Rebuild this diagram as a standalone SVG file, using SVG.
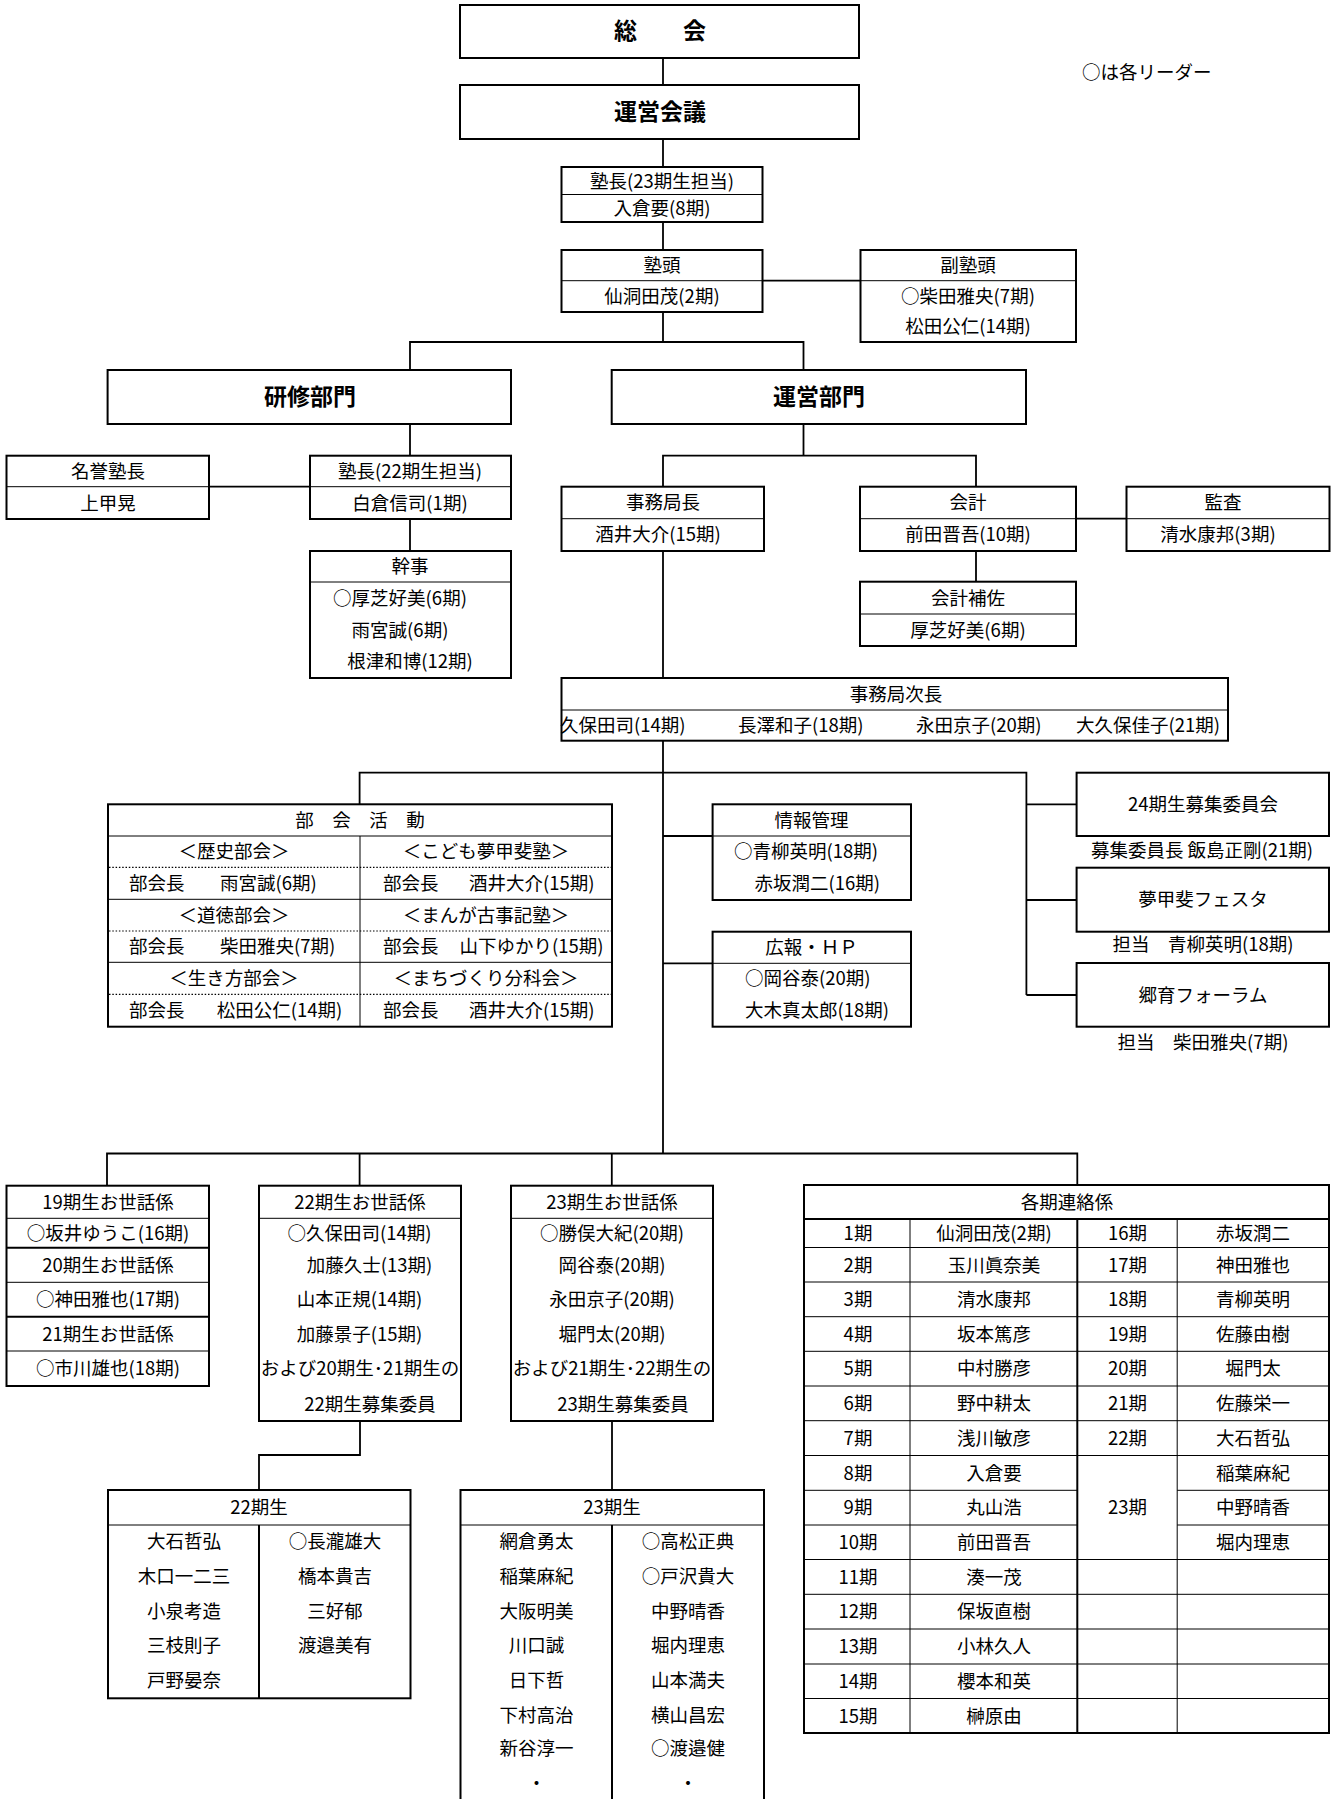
<svg xmlns="http://www.w3.org/2000/svg" width="1336" height="1799" viewBox="0 0 1336 1799">
<style>
.bx{fill:#fff;stroke:#000;stroke-width:2}
.dv{stroke:#000;stroke-width:1;fill:none}
.dk{stroke:#000;stroke-width:2;fill:none}
.dt{stroke:#000;stroke-width:1.2;stroke-dasharray:1.5 1.8;fill:none}
.cn line,.cn path{stroke:#000;stroke-width:1.8;fill:none}
text{font-family:"Noto Sans CJK JP","Noto Sans CJK SC",sans-serif;font-size:18.5px;fill:#000;dominant-baseline:central;transform:translateY(-1.2px)}
.c{text-anchor:middle}
.s{text-anchor:start}
.h{font-size:23px;font-weight:bold;text-anchor:middle;transform:translateY(-2.5px)}
</style>
<rect width="1336" height="1799" fill="#fff"/>
<g class="cn" id="connectors">
<line x1="663" y1="58" x2="663" y2="85"/>
<line x1="663" y1="139" x2="663" y2="167"/>
<line x1="663" y1="222" x2="663" y2="250"/>
<line x1="762.5" y1="280.7" x2="860.5" y2="280.7"/>
<line x1="663" y1="312" x2="663" y2="342"/>
<path d="M410,370 V342 H803.5 V370"/>
<line x1="410" y1="424" x2="410" y2="455.7"/>
<line x1="209" y1="486.7" x2="310" y2="486.7"/>
<line x1="410" y1="519" x2="410" y2="551"/>
<line x1="803.5" y1="424" x2="803.5" y2="455.7"/>
<path d="M663,486.7 V455.7 H976 V486.7"/>
<line x1="1076" y1="518.7" x2="1126.5" y2="518.7"/>
<line x1="976" y1="551" x2="976" y2="581.7"/>
<line x1="663" y1="551" x2="663" y2="678"/>
<line x1="663" y1="740.7" x2="663" y2="1153.5"/>
<path d="M359.6,804.3 V772.7 H1026.4 V995"/>
<line x1="1026.4" y1="804.3" x2="1076.6" y2="804.3"/>
<line x1="1026.4" y1="900" x2="1076.6" y2="900"/>
<line x1="1026.4" y1="995" x2="1076.6" y2="995"/>
<line x1="663" y1="836" x2="712.6" y2="836"/>
<line x1="663" y1="963.3" x2="712.6" y2="963.3"/>
<path d="M107,1185.7 V1153.5 H1077.3 V1185"/>
<line x1="359.6" y1="1153.5" x2="359.6" y2="1185.7"/>
<line x1="611.8" y1="1153.5" x2="611.8" y2="1185.7"/>
<path d="M360,1421 V1455 H259 V1490"/>
<line x1="612" y1="1421" x2="612" y2="1490"/>
</g>

<g id="legend"><text class="s" x="1082" y="72">○は各リーダー</text></g>

<g id="soukai"><rect class="bx" x="460" y="5" width="399" height="53"/><text class="h" x="660" y="31.5">総　　会</text></g>
<g id="unei-kaigi"><rect class="bx" x="460" y="85" width="399" height="54"/><text class="h" x="660" y="112">運営会議</text></g>

<g id="jukucho23"><rect class="bx" x="561.5" y="167" width="201" height="55"/><line class="dv" x1="561.5" y1="194.5" x2="762.5" y2="194.5"/>
<text class="c" x="662" y="181">塾長(23期生担当)</text><text class="c" x="662" y="208.5">入倉要(8期)</text></g>

<g id="jukuto"><rect class="bx" x="561.5" y="250" width="201" height="62"/><line class="dv" x1="561.5" y1="280.7" x2="762.5" y2="280.7"/>
<text class="c" x="662" y="265.5">塾頭</text><text class="c" x="662" y="296">仙洞田茂(2期)</text></g>

<g id="fukujukuto"><rect class="bx" x="860.5" y="250" width="215.5" height="92"/><line class="dv" x1="860.5" y1="280.7" x2="1076" y2="280.7"/>
<text class="c" x="968" y="265.5">副塾頭</text><text class="c" x="968" y="296">○柴田雅央(7期)</text><text class="c" x="968" y="326">松田公仁(14期)</text></g>

<g id="kenshu"><rect class="bx" x="107.6" y="370" width="403.4" height="54"/><text class="h" x="310" y="397">研修部門</text></g>
<g id="unei-bumon"><rect class="bx" x="611.7" y="370" width="414.3" height="54"/><text class="h" x="819" y="397">運営部門</text></g>

<g id="meiyo"><rect class="bx" x="6.5" y="455.7" width="202.5" height="63.3"/><line class="dv" x1="6.5" y1="486.7" x2="209" y2="486.7"/>
<text class="c" x="108" y="471">名誉塾長</text><text class="c" x="108" y="503">上甲晃</text></g>

<g id="jukucho22"><rect class="bx" x="310" y="455.7" width="201" height="63.3"/><line class="dv" x1="310" y1="486.7" x2="511" y2="486.7"/>
<text class="c" x="410" y="471">塾長(22期生担当)</text><text class="c" x="410" y="503">白倉信司(1期)</text></g>

<g id="kanji"><rect class="bx" x="310" y="551" width="201" height="127"/><line class="dv" x1="310" y1="582" x2="511" y2="582"/>
<text class="c" x="410" y="566.5">幹事</text><text class="c" x="400" y="598">○厚芝好美(6期)</text><text class="c" x="400" y="630">雨宮誠(6期)</text><text class="c" x="410" y="661.7">根津和博(12期)</text></g>

<g id="jimukyokucho"><rect class="bx" x="561.5" y="486.7" width="202.5" height="64.3"/><line class="dv" x1="561.5" y1="518.7" x2="764" y2="518.7"/>
<text class="c" x="663" y="502.7">事務局長</text><text class="c" x="658" y="534.7">酒井大介(15期)</text></g>

<g id="kaikei"><rect class="bx" x="860" y="486.7" width="216" height="64.3"/><line class="dv" x1="860" y1="518.7" x2="1076" y2="518.7"/>
<text class="c" x="968" y="502.7">会計</text><text class="c" x="968" y="534.7">前田晋吾(10期)</text></g>

<g id="kansa"><rect class="bx" x="1126.5" y="486.7" width="203" height="64.3"/><line class="dv" x1="1126.5" y1="518.7" x2="1329.5" y2="518.7"/>
<text class="c" x="1223" y="502.7">監査</text><text class="c" x="1218" y="534.7">清水康邦(3期)</text></g>

<g id="kaikei-hosa"><rect class="bx" x="860" y="581.7" width="216" height="64.3"/><line class="dv" x1="860" y1="614" x2="1076" y2="614"/>
<text class="c" x="968" y="598">会計補佐</text><text class="c" x="968" y="630">厚芝好美(6期)</text></g>

<g id="jimukyoku-jicho"><rect class="bx" x="561.5" y="678" width="666.5" height="62.7"/><line class="dv" x1="561.5" y1="710" x2="1228" y2="710"/>
<text class="c" x="896" y="694">事務局次長</text>
<text class="s" x="560" y="725.5">久保田司(14期)</text><text class="s" x="738" y="725.5">長澤和子(18期)</text><text class="s" x="916" y="725.5">永田京子(20期)</text><text class="s" x="1076" y="725.5">大久保佳子(21期)</text></g>

<g id="bukai"><rect class="bx" x="108" y="804.3" width="504" height="222.4"/>
<line class="dv" x1="108" y1="836" x2="612" y2="836"/>
<line class="dv" x1="360" y1="836" x2="360" y2="1026.7"/>
<line class="dv" x1="108" y1="899.3" x2="612" y2="899.3"/>
<line class="dv" x1="108" y1="962.3" x2="612" y2="962.3"/>
<line class="dt" x1="109" y1="867.3" x2="611" y2="867.3"/>
<line class="dt" x1="109" y1="931" x2="611" y2="931"/>
<line class="dt" x1="109" y1="994.3" x2="611" y2="994.3"/>
<text class="c" x="360" y="820">部　会　活　動</text>
<text class="c" x="234" y="851.7">＜歴史部会＞</text><text class="c" x="486" y="851.7">＜こども夢甲斐塾＞</text>
<text class="s" x="129" y="883.3">部会長</text><text class="s" x="220" y="883.3">雨宮誠(6期)</text>
<text class="s" x="383" y="883.3">部会長</text><text class="s" x="469" y="883.3">酒井大介(15期)</text>
<text class="c" x="234" y="915">＜道徳部会＞</text><text class="c" x="486" y="915">＜まんが古事記塾＞</text>
<text class="s" x="129" y="946.7">部会長</text><text class="s" x="220" y="946.7">柴田雅央(7期)</text>
<text class="s" x="383" y="946.7">部会長</text><text class="s" x="459.5" y="946.7">山下ゆかり(15期)</text>
<text class="c" x="234" y="978.3">＜生き方部会＞</text><text class="c" x="486" y="978.3">＜まちづくり分科会＞</text>
<text class="s" x="129" y="1010.5">部会長</text><text class="s" x="216.7" y="1010.5">松田公仁(14期)</text>
<text class="s" x="383" y="1010.5">部会長</text><text class="s" x="469" y="1010.5">酒井大介(15期)</text>
</g>

<g id="joho"><rect class="bx" x="712.6" y="804.3" width="198.4" height="95.7"/><line class="dv" x1="712.6" y1="836" x2="911" y2="836"/>
<text class="c" x="811.5" y="820">情報管理</text><text class="s" x="734" y="851.7">○青柳英明(18期)</text><text class="s" x="754.5" y="883">赤坂潤二(16期)</text></g>

<g id="koho"><rect class="bx" x="712.6" y="931.7" width="198.4" height="95"/><line class="dv" x1="712.6" y1="963.3" x2="911" y2="963.3"/>
<text class="c" x="811.5" y="947.5">広報・ＨＰ</text><text class="s" x="745" y="978.5">○岡谷泰(20期)</text><text class="s" x="745" y="1010">大木真太郎(18期)</text></g>

<g id="boshu24"><rect class="bx" x="1076.6" y="772.7" width="252.4" height="63.3"/><text class="c" x="1203" y="804.3">24期生募集委員会</text>
<text class="c" x="1202" y="850">募集委員長 飯島正剛(21期)</text></g>

<g id="festa"><rect class="bx" x="1076.6" y="867.7" width="252.4" height="64"/><text class="c" x="1203" y="899.7">夢甲斐フェスタ</text>
<text class="c" x="1203" y="944.3">担当　青柳英明(18期)</text></g>

<g id="forum"><rect class="bx" x="1076.6" y="963" width="252.4" height="63.7"/><text class="c" x="1203" y="995">郷育フォーラム</text>
<text class="c" x="1203" y="1042.7">担当　柴田雅央(7期)</text></g>

<g id="osewa19-21"><rect class="bx" x="6.5" y="1185.7" width="202.5" height="200.3"/>
<line class="dv" x1="6.5" y1="1218.3" x2="209" y2="1218.3"/>
<line class="dk" x1="6.5" y1="1247.7" x2="209" y2="1247.7"/>
<line class="dv" x1="6.5" y1="1282.3" x2="209" y2="1282.3"/>
<line class="dk" x1="6.5" y1="1316.7" x2="209" y2="1316.7"/>
<line class="dv" x1="6.5" y1="1351" x2="209" y2="1351"/>
<text class="c" x="108" y="1202">19期生お世話係</text><text class="c" x="108" y="1233">○坂井ゆうこ(16期)</text>
<text class="c" x="108" y="1265">20期生お世話係</text><text class="c" x="108" y="1299.5">○神田雅也(17期)</text>
<text class="c" x="108" y="1334">21期生お世話係</text><text class="c" x="108" y="1368.5">○市川雄也(18期)</text></g>

<g id="osewa22"><rect class="bx" x="259" y="1185.7" width="202" height="235.3"/><line class="dv" x1="259" y1="1218.3" x2="461" y2="1218.3"/>
<text class="c" x="360" y="1202">22期生お世話係</text>
<text class="c" x="359.5" y="1233">○久保田司(14期)</text>
<text class="c" x="369.5" y="1265">加藤久士(13期)</text>
<text class="c" x="359.5" y="1299.5">山本正規(14期)</text>
<text class="c" x="359.5" y="1334">加藤景子(15期)</text>
<text class="c" x="360" y="1368.5">および20期生･21期生の</text>
<text class="c" x="370" y="1404">22期生募集委員</text></g>

<g id="osewa23"><rect class="bx" x="511" y="1185.7" width="202" height="235.3"/><line class="dv" x1="511" y1="1218.3" x2="713" y2="1218.3"/>
<text class="c" x="612" y="1202">23期生お世話係</text>
<text class="c" x="612" y="1233">○勝俣大紀(20期)</text>
<text class="c" x="612" y="1265">岡谷泰(20期)</text>
<text class="c" x="612" y="1299.5">永田京子(20期)</text>
<text class="c" x="612" y="1334">堀門太(20期)</text>
<text class="c" x="612" y="1368.5">および21期生･22期生の</text>
<text class="c" x="623" y="1404">23期生募集委員</text></g>

<g id="ki22"><rect class="bx" x="108" y="1490" width="302.5" height="208.3"/><line class="dv" x1="108" y1="1525" x2="410.5" y2="1525"/><line class="dk" x1="259" y1="1525" x2="259" y2="1698.3"/>
<text class="c" x="259" y="1507.5">22期生</text>
<text class="c" x="184" y="1541.7">大石哲弘</text><text class="c" x="184" y="1576.7">木口一二三</text><text class="c" x="184" y="1611.7">小泉考造</text><text class="c" x="184" y="1645">三枝則子</text><text class="c" x="184" y="1680">戸野晏奈</text>
<text class="c" x="335" y="1541.7">○長瀧雄大</text><text class="c" x="335" y="1576.7">橋本貴吉</text><text class="c" x="335" y="1611.7">三好郁</text><text class="c" x="335" y="1645">渡邉美有</text></g>

<g id="ki23"><path class="bx" d="M460.5,1810 V1490 H764 V1810"/><line class="dv" x1="460.5" y1="1525" x2="764" y2="1525"/><line class="dk" x1="612" y1="1525" x2="612" y2="1810"/>
<text class="c" x="612" y="1507.5">23期生</text>
<text class="c" x="536.5" y="1541.7">網倉勇太</text><text class="c" x="536.5" y="1576.7">稲葉麻紀</text><text class="c" x="536.5" y="1611.7">大阪明美</text><text class="c" x="536.5" y="1645">川口誠</text><text class="c" x="536.5" y="1680">日下哲</text><text class="c" x="536.5" y="1715">下村高治</text><text class="c" x="536.5" y="1748.3">新谷淳一</text><text class="c" x="536.5" y="1783.3">・</text>
<text class="c" x="688" y="1541.7">○高松正典</text><text class="c" x="688" y="1576.7">○戸沢貴大</text><text class="c" x="688" y="1611.7">中野晴香</text><text class="c" x="688" y="1645">堀内理恵</text><text class="c" x="688" y="1680">山本満夫</text><text class="c" x="688" y="1715">横山昌宏</text><text class="c" x="688" y="1748.3">○渡邉健</text><text class="c" x="688" y="1783.3">・</text></g>

<g id="renrakugakari"><rect class="bx" x="804" y="1185" width="525" height="548"/>
<line class="dk" x1="804" y1="1219" x2="1329" y2="1219"/>
<line class="dv" x1="910" y1="1219" x2="910" y2="1733"/>
<line class="dk" x1="1077.3" y1="1219" x2="1077.3" y2="1733"/>
<line class="dv" x1="1177.2" y1="1219" x2="1177.2" y2="1733"/>
<path class="dv" d="M804,1247.5 H1329 M804,1282 H1329 M804,1316.7 H1329 M804,1351.3 H1329 M804,1386 H1329 M804,1420.7 H1329 M804,1455.5 H1329 M804,1490.3 H1077.3 M1177.2,1490.3 H1329 M804,1525 H1077.3 M1177.2,1525 H1329 M804,1559.5 H1329 M804,1594.3 H1329 M804,1629 H1329 M804,1664 H1329 M804,1698.5 H1329"/>
<text class="c" x="1067" y="1202">各期連絡係</text>
<text class="c" x="858" y="1233.3">1期</text><text class="c" x="994" y="1233.3">仙洞田茂(2期)</text><text class="c" x="1127.5" y="1233.3">16期</text><text class="c" x="1253" y="1233.3">赤坂潤二</text>
<text class="c" x="858" y="1264.8">2期</text><text class="c" x="994" y="1264.8">玉川眞奈美</text><text class="c" x="1127.5" y="1264.8">17期</text><text class="c" x="1253" y="1264.8">神田雅也</text>
<text class="c" x="858" y="1299.4">3期</text><text class="c" x="994" y="1299.4">清水康邦</text><text class="c" x="1127.5" y="1299.4">18期</text><text class="c" x="1253" y="1299.4">青柳英明</text>
<text class="c" x="858" y="1334">4期</text><text class="c" x="994" y="1334">坂本篤彦</text><text class="c" x="1127.5" y="1334">19期</text><text class="c" x="1253" y="1334">佐藤由樹</text>
<text class="c" x="858" y="1368.7">5期</text><text class="c" x="994" y="1368.7">中村勝彦</text><text class="c" x="1127.5" y="1368.7">20期</text><text class="c" x="1253" y="1368.7">堀門太</text>
<text class="c" x="858" y="1403.4">6期</text><text class="c" x="994" y="1403.4">野中耕太</text><text class="c" x="1127.5" y="1403.4">21期</text><text class="c" x="1253" y="1403.4">佐藤栄一</text>
<text class="c" x="858" y="1438.1">7期</text><text class="c" x="994" y="1438.1">浅川敏彦</text><text class="c" x="1127.5" y="1438.1">22期</text><text class="c" x="1253" y="1438.1">大石哲弘</text>
<text class="c" x="858" y="1472.9">8期</text><text class="c" x="994" y="1472.9">入倉要</text><text class="c" x="1253" y="1472.9">稲葉麻紀</text>
<text class="c" x="858" y="1507.6">9期</text><text class="c" x="994" y="1507.6">丸山浩</text><text class="c" x="1127.5" y="1507.6">23期</text><text class="c" x="1253" y="1507.6">中野晴香</text>
<text class="c" x="858" y="1542.3">10期</text><text class="c" x="994" y="1542.3">前田晋吾</text><text class="c" x="1253" y="1542.3">堀内理恵</text>
<text class="c" x="858" y="1576.9">11期</text><text class="c" x="994" y="1576.9">湊一茂</text>
<text class="c" x="858" y="1611.7">12期</text><text class="c" x="994" y="1611.7">保坂直樹</text>
<text class="c" x="858" y="1646.5">13期</text><text class="c" x="994" y="1646.5">小林久人</text>
<text class="c" x="858" y="1681.3">14期</text><text class="c" x="994" y="1681.3">櫻本和英</text>
<text class="c" x="858" y="1715.8">15期</text><text class="c" x="994" y="1715.8">榊原由</text>
</g>
</svg>
